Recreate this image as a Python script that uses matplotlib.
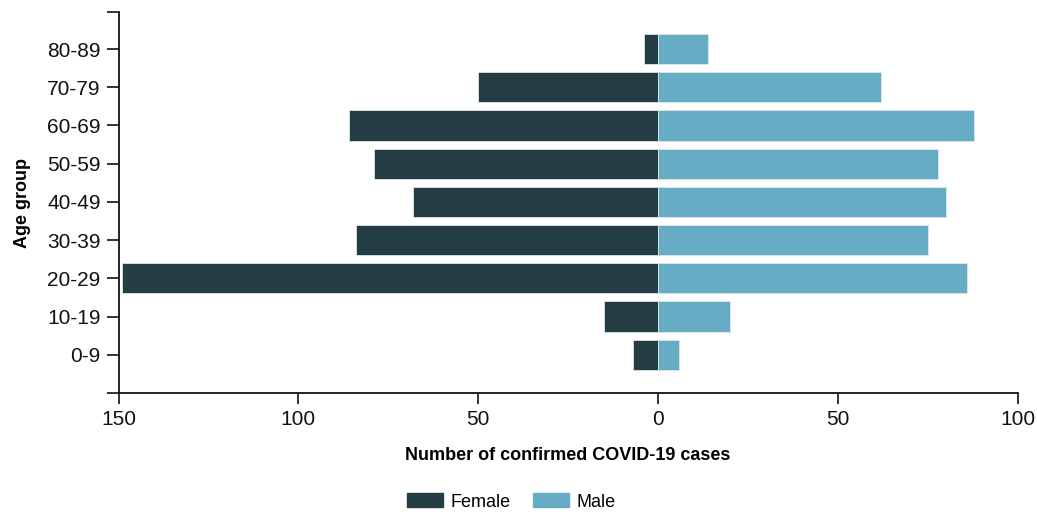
import matplotlib.pyplot as plt
import matplotlib.patches as mpatches
from matplotlib.ticker import FuncFormatter, FixedLocator

plt.rcParams['font.family'] = ['Liberation Sans', 'DejaVu Sans']

# Datos
age_groups = ["0-9", "10-19", "20-29", "30-39", "40-49", "50-59", "60-69", "70-79", "80-89"]
female = [7, 15, 149, 84, 68, 79, 86, 50, 4]
male = [6, 20, 86, 75, 80, 78, 88, 62, 14]

FEMALE_COLOR = "#243c44"
MALE_COLOR = "#66acc4"

fig = plt.figure(figsize=(10.37, 5.12), dpi=100)
ax = fig.add_axes([118.5 / 1037, 1 - 393 / 512, 899 / 1037, 381 / 512])

ypos = list(range(len(age_groups)))
ax.barh(ypos, [-v for v in female], height=0.79, color=FEMALE_COLOR,
        edgecolor="#dfe6e8", linewidth=0.6)
ax.barh(ypos, male, height=0.79, color=MALE_COLOR,
        edgecolor="#dfe6e8", linewidth=0.6)

ytop = 8.97
ax.set_xlim(-150, 100)
ax.set_ylim(-1, ytop)

ax.set_xticks([-150, -100, -50, 0, 50, 100])
ax.xaxis.set_major_formatter(FuncFormatter(lambda v, p: f"{abs(int(v))}"))
ax.set_yticks(ypos)
ax.set_yticklabels(age_groups)
ax.yaxis.set_minor_locator(FixedLocator([-1, ytop]))

ax.tick_params(axis="x", length=8, width=1.2, labelsize=15, pad=4, colors="#111111")
ax.tick_params(axis="y", which="both", length=8.3, width=1.2, labelsize=15, pad=4.5,
               colors="#111111")

for s in ["top", "right"]:
    ax.spines[s].set_visible(False)
for s in ["left", "bottom"]:
    ax.spines[s].set_linewidth(1.3)
    ax.spines[s].set_color("#111111")

ax.set_xlabel("Number of confirmed COVID-19 cases", fontsize=13, fontweight="bold", labelpad=13)
ax.set_ylabel("Age group", fontsize=13, fontweight="bold", labelpad=12)

handles = [mpatches.Patch(color=FEMALE_COLOR, label="Female"),
           mpatches.Patch(color=MALE_COLOR, label="Male")]
fig.legend(handles=handles, loc="center", bbox_to_anchor=(511 / 1037, 1 - 502 / 512),
           ncol=2, frameon=False, fontsize=13, handlelength=2.0, handleheight=0.8,
           columnspacing=1.25, handletextpad=0.4)

fig.savefig("out.png", dpi=100)
